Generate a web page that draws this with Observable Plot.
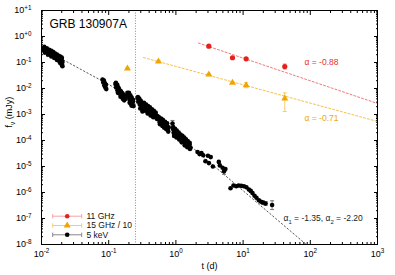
<!DOCTYPE html>
<html><head><meta charset="utf-8">
<script src="https://cdn.jsdelivr.net/npm/d3@7"></script>
<script src="https://cdn.jsdelivr.net/npm/@observablehq/plot@0.6"></script>
<style>
body{margin:0;background:#fff}
svg{font-family:"Liberation Sans",Arial,Helvetica,sans-serif}
</style>
</head><body><div id="chart"></div>
<script>
// ---- X-ray 5 keV light curve (t in days, flux in mJy)
const xrayT = [0.0107,0.0109,0.0112,0.0115,0.0118,0.0121,0.0124,0.0127,0.0131,0.0134,0.0138,0.0142,0.0146,0.0150,0.0155,0.0160,0.0165,0.0170,0.0176,0.0182,0.0188,0.0194,0.0200,0.0205,0.0195,0.0202,0.0190,
  0.0110,0.0120,0.0130,0.0140,0.0150,0.0160,0.0170,0.0180,0.0190,0.0200,0.0112,0.0125,0.0140,0.0155,0.0170,0.0185,0.0200,0.0205,
  0.081,0.083,0.085,0.086,0.088,0.089,0.091,0.092,
  0.126,0.129,0.132,0.135,0.138,0.141,0.144,0.148,0.152,0.156,0.160,0.165,0.170,0.174,
  0.128,0.134,0.140,0.146,0.155,0.162,0.150,0.170,0.137,
  0.190,0.194,0.198,0.203,0.208,0.213,0.218,0.224,0.229,0.234,
  0.192,0.200,0.210,0.220,0.230,0.205,0.218,
  0.268,0.275,0.282,0.290,0.298,0.306,0.314,0.320,
  0.272,0.285,0.300,0.312,0.295,0.318,
  0.330,0.340,0.352,0.364,0.376,0.390,0.404,0.418,0.432,0.448,0.464,0.480,0.497,0.515,0.532,
  0.335,0.360,0.385,0.410,0.440,0.470,0.500,0.350,0.380,0.420,0.460,0.520,
  0.550,0.570,0.590,0.612,0.634,0.656,0.680,0.704,0.728,0.754,0.780,0.890,
  0.560,0.600,0.640,0.690,0.740,0.580,0.630,0.670,0.720,0.770,
  0.900,0.925,0.950,0.978,1.005,1.035,1.065,1.096,1.128,1.160,1.194,1.229,1.265,1.302,1.340,1.380,1.420,1.462,1.505,1.550,1.600,1.650,
  0.910,0.970,1.030,1.100,1.170,1.250,1.330,1.410,1.500,1.600,0.940,1.020,1.120,1.220,1.350,1.480,1.620,
  2.10,2.25,2.40,2.55,2.75,3.00,3.10,3.30,3.55,4.35,4.50,4.95,5.20,5.45,
  6.5,7.2,7.9,8.6,9.4,10.3,11.2,12.2,13.0,13.8,14.8,15.8,17.2,18.5,19.7,21.6,27.0];
const xrayF = [0.36,0.29,0.33,0.27,0.30,0.25,0.28,0.23,0.26,0.21,0.24,0.20,0.22,0.18,0.20,0.16,0.18,0.145,0.165,0.13,0.15,0.115,0.135,0.105,0.10,0.08,0.095,
  0.40,0.35,0.31,0.28,0.25,0.22,0.20,0.18,0.17,0.155,0.24,0.20,0.17,0.15,0.125,0.11,0.085,0.072,
  0.022,0.017,0.020,0.013,0.016,0.011,0.014,0.0095,
  0.015,0.011,0.013,0.0085,0.011,0.0075,0.0092,0.0062,0.0078,0.0052,0.0065,0.0045,0.0055,0.0039,
  0.0165,0.0140,0.0105,0.0080,0.0068,0.0040,0.0048,0.0035,0.0068,
  0.0068,0.0048,0.0058,0.0038,0.0047,0.0030,0.0037,0.0025,0.0030,0.0021,
  0.0058,0.0068,0.0055,0.0045,0.0036,0.0028,0.0022,
  0.0043,0.0031,0.0036,0.0024,0.0029,0.0018,0.0022,0.0015,
  0.0047,0.0041,0.0034,0.0027,0.0017,0.0013,
  0.0024,0.0017,0.0021,0.0015,0.0019,0.0013,0.0016,0.0011,0.0014,0.00096,0.0012,0.00085,0.0010,0.00075,0.00088,
  0.0028,0.0024,0.0021,0.0019,0.0016,0.0014,0.0012,0.0014,0.0011,0.00092,0.00078,0.00068,
  0.00068,0.00052,0.00060,0.00046,0.00054,0.00040,0.00046,0.00033,0.00040,0.00027,0.00032,0.00045,
  0.00078,0.00070,0.00062,0.00052,0.00046,0.00042,0.00036,0.00031,0.00027,0.00022,
  0.00028,0.00020,0.00024,0.00017,0.00021,0.00015,0.00018,0.00013,0.00016,0.00011,0.00014,0.000098,0.00012,0.000088,0.00011,0.000078,0.000095,0.000068,0.000082,0.000060,0.000070,0.000053,
  0.00033,0.00028,0.00024,0.00020,0.00017,0.00015,0.00013,0.00011,0.000095,0.000082,0.00015,0.00013,0.00011,0.000085,0.000065,0.000055,0.000047,
  3.6e-5,3.0e-5,3.3e-5,2.7e-5,1.6e-5,2.6e-5,1.35e-5,2.3e-5,1.0e-5,1.5e-5,1.1e-5,9.0e-6,6.5e-6,8.0e-6,
  1.45e-6,1.85e-6,1.75e-6,1.85e-6,1.8e-6,1.75e-6,1.6e-6,1.3e-6,1.15e-6,9.5e-7,7.5e-7,6.3e-7,5.0e-7,4.4e-7,4.1e-7,3.8e-7,3.3e-7];
// visible X-ray error bars
const xrayErrT  = [0.890, 5.20, 19.7, 21.6, 27.0];
const xrayErrLo = [3.2e-4, 5.0e-6, 3.5e-7, 3.2e-7, 2.2e-7];
const xrayErrHi = [5.9e-4, 8.5e-6, 4.8e-7, 4.5e-7, 4.8e-7];

// ---- 11 GHz radio
const r11T  = [3.09, 6.95, 11.1, 41.7];
const r11F  = [0.424, 0.152, 0.139, 0.070];
const r11Lo = [0.40, 0.143, 0.130, 0.056];
const r11Hi = [0.45, 0.162, 0.148, 0.088];
// ---- 15 GHz / 10
const r15T  = [0.19, 0.55, 3.09, 6.95, 11.1, 41.7];
const r15F  = [0.0588, 0.109, 0.0345, 0.0166, 0.0134, 0.00412];
const r15Lo = [0.055, 0.102, 0.032, 0.0155, 0.0107, 0.0013];
const r15Hi = [0.063, 0.117, 0.037, 0.0178, 0.0169, 0.0068];

// ---- power-law fits (knots)
const fitXT = [0.0107, 0.25, 90];       // alpha1 = -1.35, alpha2 = -2.20
const fitXF = [0.33, 0.00391, 9.3e-9];
const fit11T = [2.17, 1000];            // alpha = -0.88
const fit11F = [0.56, 0.00265];
const fit15T = [0.33, 1000];            // alpha = -0.71
const fit15F = [0.155, 0.00054];
const breakT = [0.25];

// ---- annotations
const title = "GRB 130907A";
const annT = [82, 82, 40];
const annF = [0.1, 7e-4, 1.0e-7];
const annText = ["α = -0.88", "α = -0.71", "α_{1} = -1.35, α_{2} = -2.20"];
const annColor = ["#e8322e", "#e8a812", "#222"];

// ---- legend
const legendLabels = ["11 GHz", "15 GHz / 10", "5 keV"];
const legendColors = ["#e8201c", "#f0a500", "#000"];
const legendBarColors = ["#f5a3a3", "#f6cc70", "#888"];
const legendSymbols = ["circle", "triangle", "circle"];

// ---- ticks
const xMajor = [1e-2, 1e-1, 1, 10, 100, 1000];
const xMajorLabels = ["10^{-2}", "10^{-1}", "10^{0}", "10^{1}", "10^{2}", "10^{3}"];
const yMajor = [1e-8, 1e-7, 1e-6, 1e-5, 1e-4, 1e-3, 1e-2, 1e-1, 1, 10];
const yMajorLabels = ["10^{-8}", "10^{-7}", "10^{-6}", "10^{-5}", "10^{-4}", "10^{-3}", "10^{-2}", "10^{-1}", "10^{+0}", "10^{+1}"];
const minorOf = (majors) => majors.slice(0, -1).flatMap(p => [2,3,4,5,6,7,8,9].map(m => m * p));
const xMinor = minorOf(xMajor), yMinor = minorOf(yMajor);

const xray = xrayT.map((t, i) => ({t, f: xrayF[i]}));
const xrayErr = xrayErrT.map((t, i) => ({t, lo: xrayErrLo[i], hi: xrayErrHi[i]}));
const r11 = r11T.map((t, i) => ({t, f: r11F[i], lo: r11Lo[i], hi: r11Hi[i]}));
const r15 = r15T.map((t, i) => ({t, f: r15F[i], lo: r15Lo[i], hi: r15Hi[i]}));
const line = (T, F) => T.map((t, i) => ({t, f: F[i]}));

const capSym = {draw(c) { c.moveTo(-2, 0); c.lineTo(2, 0); }};
const barSym = {draw(c) { c.moveTo(-14.5, 0); c.lineTo(14.5, 0); c.moveTo(-14.5, -2.2); c.lineTo(-14.5, 2.2); c.moveTo(14.5, -2.2); c.lineTo(14.5, 2.2); }};

const errMarks = (data, color) => [
  Plot.ruleX(data, {x: "t", y1: "lo", y2: "hi", stroke: color, strokeWidth: 1}),
  Plot.dot(data, {x: "t", y: "lo", symbol: capSym, stroke: color, fill: "none", strokeWidth: 1}),
  Plot.dot(data, {x: "t", y: "hi", symbol: capSym, stroke: color, fill: "none", strokeWidth: 1})
];

const legendDy = [-28.3, -19, -9.7];
const legendMarks = legendLabels.flatMap((lab, i) => [
  Plot.dot([0], {frameAnchor: "bottom-left", dx: 25.7, dy: legendDy[i], symbol: barSym, stroke: legendBarColors[i], fill: "none", strokeWidth: 1}),
  Plot.dot([0], {frameAnchor: "bottom-left", dx: 25.7, dy: legendDy[i], symbol: legendSymbols[i], r: legendSymbols[i] === "triangle" ? 2.6 : 2.3, fill: legendColors[i], stroke: "none"}),
  Plot.text([lab], {frameAnchor: "bottom-left", dx: 45, dy: legendDy[i], text: d => d, textAnchor: "start", lineAnchor: "middle", fontSize: 8.5, fill: "#111"})
]);

const chart = Plot.plot({
  width: 395, height: 275,
  marginLeft: 41, marginRight: 18, marginTop: 10, marginBottom: 31,
  x: {type: "log", domain: [1e-2, 1e3]},
  y: {type: "log", domain: [1e-8, 10]},
  style: {fontFamily: "Liberation Sans, Arial, sans-serif", background: "#fff", color: "#000"},
  marks: [
    Plot.ruleX(breakT, {stroke: "#8a8a8a", strokeDasharray: "1,1.6", strokeWidth: 1}),
    Plot.line(line(fitXT, fitXF), {x: "t", y: "f", stroke: "#444", strokeWidth: 0.9, strokeDasharray: "1.4,2.4", clip: true}),
    Plot.line(line(fit11T, fit11F), {x: "t", y: "f", stroke: "#f07a7a", strokeWidth: 1, strokeDasharray: "2,2", clip: true}),
    Plot.line(line(fit15T, fit15F), {x: "t", y: "f", stroke: "#f7c047", strokeWidth: 1, strokeDasharray: "2,2", clip: true}),
    ...errMarks(xrayErr, "#777"),
    Plot.dot(xray, {x: "t", y: "f", r: 2.3, fill: "#000", stroke: "none"}),
    ...errMarks(r15, "#f6cc70"),
    Plot.dot(r15, {x: "t", y: "f", symbol: "triangle", r: 2.6, fill: "#f0a500", stroke: "none"}),
    ...errMarks(r11, "#f5a3a3"),
    Plot.dot(r11, {x: "t", y: "f", r: 2.6, fill: "#e8201c", stroke: "none"}),
    Plot.text(annText, {x: (d, i) => annT[i], y: (d, i) => annF[i], text: d => d, fill: (d, i) => annColor[i], textAnchor: "start", lineAnchor: "middle", fontSize: 8.5}),
    Plot.text([title], {frameAnchor: "top-left", dx: 8, dy: 14, text: d => d, textAnchor: "start", lineAnchor: "middle", fontSize: 12, fill: "#000"}),
    ...legendMarks,
    Plot.frame({stroke: "#000", strokeWidth: 1}),
    // inward ticks, mirrored on all sides
    Plot.axisX(xMajor, {anchor: "bottom", tickSize: -4, tickFormat: () => "", label: null}),
    Plot.axisX(xMajor, {anchor: "top", tickSize: -4, tickFormat: () => "", label: null}),
    Plot.axisX(xMinor, {anchor: "bottom", tickSize: -2, tickFormat: () => "", label: null}),
    Plot.axisX(xMinor, {anchor: "top", tickSize: -2, tickFormat: () => "", label: null}),
    Plot.axisY(yMajor, {anchor: "left", tickSize: -4, tickFormat: () => "", label: null}),
    Plot.axisY(yMajor, {anchor: "right", tickSize: -4, tickFormat: () => "", label: null}),
    Plot.axisY(yMinor, {anchor: "left", tickSize: -2, tickFormat: () => "", label: null}),
    Plot.axisY(yMinor, {anchor: "right", tickSize: -2, tickFormat: () => "", label: null}),
    // tick labels
    Plot.axisX(xMajor, {anchor: "bottom", tickSize: 0, tickPadding: 6, tickFormat: v => xMajorLabels[xMajor.indexOf(v)], fontSize: 9, label: null}),
    Plot.axisY(yMajor, {anchor: "left", tickSize: 0, tickPadding: 10, tickFormat: v => yMajorLabels[yMajor.indexOf(v)], fontSize: 9, label: null}),
    // axis titles
    Plot.text(["t (d)"], {frameAnchor: "bottom", dy: 22, text: d => d, lineAnchor: "middle", fontSize: 9, fill: "#000"}),
    Plot.text(["f_{ν} (mJy)"], {frameAnchor: "left", dx: -32, text: d => d, rotate: -90, lineAnchor: "middle", fontSize: 9, fill: "#000"})
  ]
});
document.getElementById("chart").appendChild(chart);

// rich text: ^{...} superscript, _{...} subscript
const NS = "http://www.w3.org/2000/svg";
chart.querySelectorAll("text").forEach(el => {
  const s = el.textContent;
  if (!/[\^_]\{/.test(s)) return;
  const fs = parseFloat(getComputedStyle(el).fontSize) || 9;
  el.textContent = "";
  const re = /([\^_])\{([^}]*)\}/g;
  let last = 0, cur = 0, m;
  const add = (txt, off, small) => {
    const t = document.createElementNS(NS, "tspan");
    t.textContent = txt;
    if (off !== cur) t.setAttribute("dy", off - cur);
    if (small) t.setAttribute("font-size", (fs * 0.7).toFixed(1));
    cur = off;
    el.appendChild(t);
  };
  while ((m = re.exec(s))) {
    if (m.index > last) add(s.slice(last, m.index), 0, false);
    add(m[2], m[1] === "^" ? -fs * 0.4 : fs * 0.3, true);
    last = re.lastIndex;
  }
  if (last < s.length) add(s.slice(last), 0, false);
});
</script>
</body></html>
